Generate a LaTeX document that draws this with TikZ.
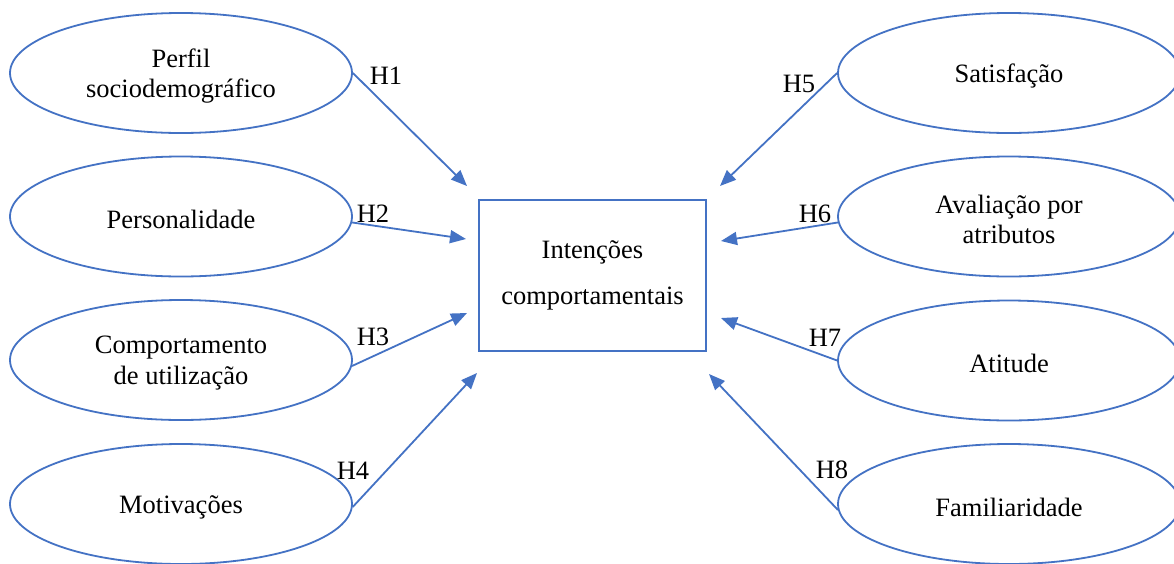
\documentclass[tikz,border=0pt]{standalone}
\usepackage{fontspec}
\setmainfont{Liberation Serif}
\usetikzlibrary{shapes.geometric,arrows.meta}
\definecolor{accent}{RGB}{68,114,196}
\begin{document}
\begin{tikzpicture}[x=1pt,y=-1pt,
  oval/.style={draw=accent,line width=1.8pt,ellipse,minimum width=342pt,minimum height=120pt,inner sep=0pt},
  ovaltext/.style={inner sep=0pt,align=center,yshift=-3pt,font=\fontsize{26.5}{30.5}\selectfont},
  targetbox/.style={draw=accent,line width=1.8pt,minimum width=227pt,minimum height=151pt,inner sep=0pt,align=center,font=\fontsize{26.5}{46}\selectfont},
  link/.style={draw=accent,line width=1.8pt,-{Triangle[length=16pt,width=13pt]}},
  hyp/.style={font=\fontsize{26.5}{30}\selectfont,inner sep=0pt}]
\clip (0,0) rectangle (1174,563);
\fill[white] (0,0) rectangle (1174,563);
% left ellipses
\node[oval] (e1) at (181,73) {};
\node[oval] (e2) at (181,216.5) {};
\node[oval] (e3) at (181,360) {};
\node[oval] (e4) at (181,504) {};
\node[ovaltext] (e1t) at (e1) {Perfil\\sociodemográfico};
\node[ovaltext] (e2t) at (e2) {Personalidade};
\node[ovaltext] (e3t) at (e3) {Comportamento\\de utilização};
\node[ovaltext] (e4t) at (e4) {Motivações};
% right ellipses
\node[oval] (r1) at (1009,73) {};
\node[oval] (r2) at (1009,216.5) {};
\node[oval] (r3) at (1009,360.5) {};
\node[oval] (r4) at (1009,504) {};
\node[ovaltext] (r1t) at (r1) {Satisfação};
\node[ovaltext] (r2t) at (r2) {Avaliação por\\atributos};
\node[ovaltext] (r3t) at (r3) {Atitude};
\node[ovaltext] (r4t) at (r4) {Familiaridade};
% central box
\node[targetbox] (c) at (592.5,275.5) {Intenções\\comportamentais};
% arrow tips
\coordinate (t1) at (467,186);
\coordinate (t2) at (466,239);
\coordinate (t3) at (467,313);
\coordinate (t4) at (477,373);
\coordinate (t5) at (720,186);
\coordinate (t6) at (721,241);
\coordinate (t7) at (721,318);
\coordinate (t8) at (709,374);
\draw[link] (e1.east) -- (t1);
\draw[link] (e2.-2.2) -- (t2);
\draw[link] (e3.-2.4) -- (t3);
\draw[link] (e4.-1.7) -- (t4);
\draw[link] (r1.west) -- (t5);
\draw[link] (r2.182.5) -- (t6);
\draw[link] (r3.west) -- (t7);
\draw[link] (r4.182.7) -- (t8);
% labels
\node[hyp] (h1) at (386,76) {H1};
\node[hyp] (h2) at (373,214) {H2};
\node[hyp] (h3) at (373,337) {H3};
\node[hyp] (h4) at (353,471) {H4};
\node[hyp] (h5) at (799,84) {H5};
\node[hyp] (h6) at (815,214) {H6};
\node[hyp] (h7) at (825,338) {H7};
\node[hyp] (h8) at (832,470) {H8};
\end{tikzpicture}
\end{document}
